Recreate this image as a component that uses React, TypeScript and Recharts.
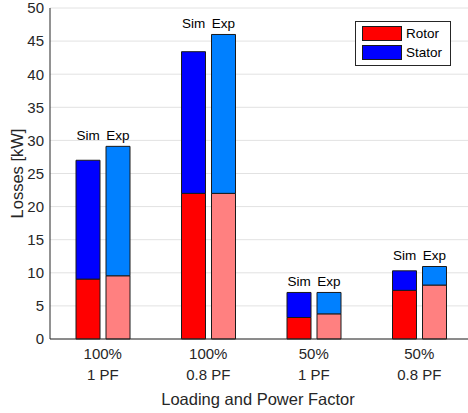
import React from 'react';
import { BarChart, Bar, XAxis, YAxis, CartesianGrid, Legend, LabelList } from 'recharts';

// ---- data ----
const loadLabels = ['100%', '100%', '50%', '50%'];
const pfLabels = ['1 PF', '0.8 PF', '1 PF', '0.8 PF'];
const simRotor = [9.05, 22.0, 3.25, 7.35];
const simTotal = [27.0, 43.4, 7.03, 10.3];
const expRotor = [9.55, 22.0, 3.8, 8.15];
const expTotal = [29.1, 46.0, 7.03, 10.95];
const yTicks = [0, 5, 10, 15, 20, 25, 30, 35, 40, 45, 50];
const runLabels = ['Sim', 'Exp'];
const legendNames = ['Rotor', 'Stator'];

const data = loadLabels.map((l, i) => ({
  cat: `${l}|${pfLabels[i]}`,
  simRotor: simRotor[i],
  simStator: +(simTotal[i] - simRotor[i]).toFixed(3),
  expRotor: expRotor[i],
  expStator: +(expTotal[i] - expRotor[i]).toFixed(3),
}));

const FONT = '"Liberation Sans", Arial, Helvetica, sans-serif';
const AX = '#262626';
const C_SIM_ROTOR = '#ff0000';
const C_SIM_STATOR = '#0000ff';
const C_EXP_ROTOR = '#ff8080';
const C_EXP_STATOR = '#0080ff';
const EDGE = '#1a1a1a';

const XTick = (props: any) => {
  const { x, y, payload } = props;
  const [a, b] = String(payload.value).split('|');
  return (
    <text x={x} y={y} textAnchor="middle" fontSize={15} fill={AX} fontFamily={FONT}>
      <tspan x={x} dy={19.5}>{a}</tspan>
      <tspan x={x} dy={21}>{b}</tspan>
    </text>
  );
};

const makeRunLabel = (run: number) => (props: any) => {
  const vb = props.viewBox || props;
  const { x, y, width, height } = vb;
  const index = props.index;
  if (index == null || x == null) return null;
  const own = run === 0 ? simTotal[index] : expTotal[index];
  const rotor = run === 0 ? simRotor[index] : expRotor[index];
  const stator = own - rotor;
  const ppu = Math.abs(height) / stator;
  const top = Math.min(y, y + height) - (Math.max(simTotal[index], expTotal[index]) - own) * ppu;
  return (
    <text
      x={x + width / 2}
      y={top - 11}
      textAnchor="middle"
      dominantBaseline="central"
      fontSize={13.5}
      fill="#000"
      fontFamily={FONT}
    >
      {runLabels[run]}
    </text>
  );
};

const LegendBox = () => {
  const colors = [C_SIM_ROTOR, C_SIM_STATOR];
  return (
    <div
      style={{
        width: 94,
        height: 43,
        border: `1px solid ${AX}`,
        background: '#fff',
        fontFamily: FONT,
        fontSize: 13.5,
        color: '#000',
        position: 'relative',
      }}
    >
      {legendNames.map((n, i) => (
        <div
          key={n}
          style={{ position: 'absolute', left: 6, top: 4 + i * 19, height: 15, display: 'flex', alignItems: 'center' }}
        >
          <div style={{ width: 38, height: 13, background: colors[i], border: `1px solid ${EDGE}` }} />
          <span style={{ marginLeft: 4, lineHeight: '15px' }}>{n}</span>
        </div>
      ))}
    </div>
  );
};

export default function App() {
  return (
    <div style={{ position: 'absolute', left: 0, top: 0, width: 468, height: 413, overflow: 'hidden', background: '#fff' }}>
      <BarChart
        width={472}
        height={413}
        data={data}
        margin={{ top: 8, right: 0, bottom: 0, left: 0 }}
        barSize={24}
        barGap={6}
        style={{ fontFamily: FONT }}
      >
        <CartesianGrid vertical={false} stroke="#e2e2e2" strokeWidth={1} />
        <XAxis
          dataKey="cat"
          height={74}
          tickLine={false}
          tickSize={0}
          tickMargin={0}
          interval={0}
          tick={<XTick />}
          axisLine={{ stroke: AX, strokeWidth: 1 }}
          label={(p: any) => {
            const vb = p.viewBox;
            return (
              <text
                x={vb.x + 208}
                y={399}
                textAnchor="middle"
                dominantBaseline="central"
                fontSize={16.5}
                fill={AX}
                fontFamily={FONT}
              >
                Loading and Power Factor
              </text>
            );
          }}
        />
        <XAxis
          xAxisId="bottomIn"
          dataKey="cat"
          mirror
          height={0}
          tick={false}
          tickSize={4}
          axisLine={false}
          tickLine={{ stroke: AX }}
          interval={0}
        />
        <XAxis
          xAxisId="top"
          dataKey="cat"
          orientation="top"
          mirror
          height={0}
          tick={false}
          tickSize={4}
          axisLine={{ stroke: AX }}
          tickLine={{ stroke: AX }}
          interval={0}
        />
        <YAxis
          domain={[0, 50]}
          ticks={yTicks}
          interval={0}
          width={50}
          tickLine={false}
          tickSize={0}
          tickMargin={6}
          axisLine={{ stroke: AX, strokeWidth: 1 }}
          tick={{ fill: AX, fontSize: 15, fontFamily: FONT }}
          label={(p: any) => {
            const vb = p.viewBox;
            const cy = vb.y + vb.height / 2;
            return (
              <text
                x={17}
                y={cy}
                transform={`rotate(-90 17 ${cy})`}
                textAnchor="middle"
                dominantBaseline="central"
                fontSize={16.5}
                fill={AX}
                fontFamily={FONT}
              >
                Losses [kW]
              </text>
            );
          }}
        />
        <YAxis
          yAxisId="leftIn"
          domain={[0, 50]}
          ticks={yTicks}
          interval={0}
          mirror
          width={0}
          tick={false}
          tickSize={4}
          axisLine={false}
          tickLine={{ stroke: AX }}
        />
        <YAxis
          yAxisId="right"
          orientation="right"
          domain={[0, 50]}
          ticks={yTicks}
          interval={0}
          mirror
          width={0}
          tick={false}
          tickSize={4}
          axisLine={{ stroke: AX }}
          tickLine={{ stroke: AX }}
        />
        <Legend
          layout="vertical"
          align="center"
          verticalAlign="middle"
          content={() => <LegendBox />}
          wrapperStyle={{ position: 'absolute', left: 355, top: 21, width: 96, height: 45 }}
        />
        <Bar dataKey="simRotor" stackId="sim" fill={C_SIM_ROTOR} stroke={EDGE} strokeWidth={1} isAnimationActive={false} />
        <Bar dataKey="simStator" stackId="sim" fill={C_SIM_STATOR} stroke={EDGE} strokeWidth={1} isAnimationActive={false}>
          <LabelList dataKey="simStator" content={makeRunLabel(0)} />
        </Bar>
        <Bar dataKey="expRotor" stackId="exp" fill={C_EXP_ROTOR} stroke={EDGE} strokeWidth={1} isAnimationActive={false} />
        <Bar dataKey="expStator" stackId="exp" fill={C_EXP_STATOR} stroke={EDGE} strokeWidth={1} isAnimationActive={false}>
          <LabelList dataKey="expStator" content={makeRunLabel(1)} />
        </Bar>
      </BarChart>
    </div>
  );
}
